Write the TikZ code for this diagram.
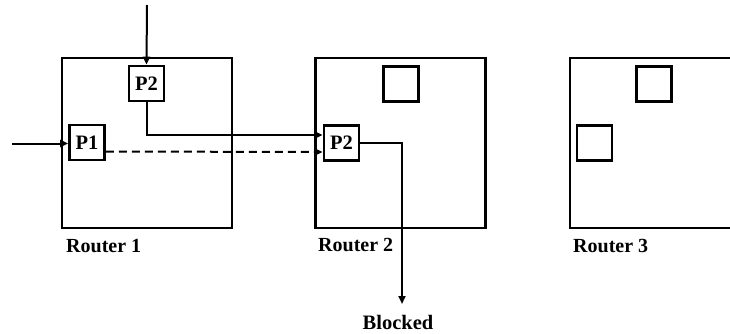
\documentclass[tikz,border=0pt]{standalone}
\usepackage{fontspec}
\setmainfont{Liberation Serif}
\usetikzlibrary{arrows.meta,calc}
\begin{document}
\begin{tikzpicture}[x=1pt,y=-1pt,
  router/.style={draw,line width=2.9pt,minimum width=170pt,minimum height=170pt,inner sep=0pt},
  port/.style={draw,line width=2.7pt,minimum width=35pt,minimum height=35pt,inner sep=0pt,
    font=\fontsize{20.5}{21}\selectfont\bfseries},
  lbl/.style={anchor=west,inner sep=0pt,font=\fontsize{20}{21}\selectfont\bfseries},
  conn/.style={line width=2pt,-{Triangle[length=8pt,width=7pt]}}]
\clip (0,0) rectangle (730,333);
% routers
\node[router] (r1) at (147,143) {};
\node[router] (r2) at (400.5,143) {};
\node[router] (r3) at (655,143) {};
% ports
\node[port] (r1p2) at (146.5,83.5) {P2};
\node[port] (r1p1) at (87,142.5) {P1};
\node[port] (r2sq) at (401,84) {};
\node[port] (r2p2) at (341.5,143) {P2};
\node[port] (r3sq1) at (654,84) {};
\node[port] (r3sq2) at (594.5,143) {};
% labels
\node[lbl] (l1) at (66,246) {Router 1};
\node[lbl] (l2) at (318,245) {Router 2};
\node[lbl] (l3) at (573,246) {Router 3};
\node[inner sep=0pt,font=\fontsize{20.5}{21}\selectfont\bfseries] (bl) at (398,322) {Blocked};
% free ends
\coordinate (topin) at (147,5);
\coordinate (leftin) at (12,143.5);
\coordinate (blk) at (402,304);
% connectors
\draw[conn] (topin) -- (r1p2.north);
\draw[conn] (leftin) -- (r1p1.west |- leftin);
\draw[conn] (r1p2.south) |- ($(r2p2.west)+(0,-8)$);
\draw[conn,dash pattern=on 8pt off 5pt] ($(r1p1.east)+(0,9)$) -- ($(r2p2.west)+(0,9)$);
\draw[conn] (r2p2.east) -| (blk);
\end{tikzpicture}
\end{document}
